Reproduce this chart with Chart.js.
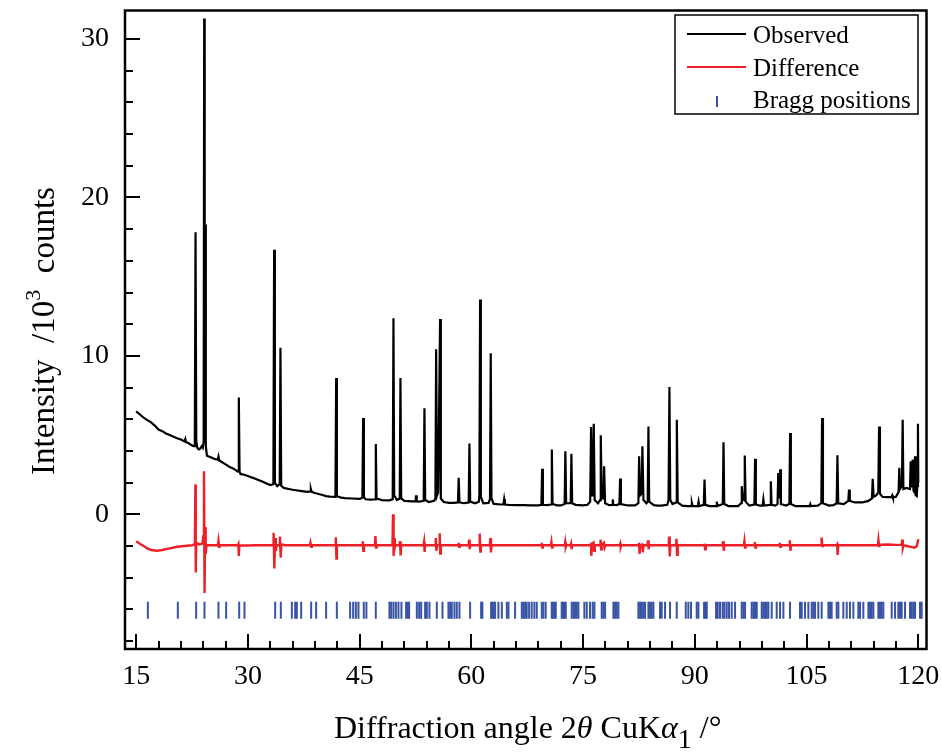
<!DOCTYPE html>
<html>
<head>
<meta charset="utf-8">
<title>Diffraction pattern</title>
<script src="https://cdn.jsdelivr.net/npm/chart.js@4.4.1/dist/chart.umd.min.js"></script>
<style>
  html, body { margin: 0; padding: 0; background: #fff; }
  #wrap { width: 942px; height: 752px; }
</style>
</head>
<body>
<div id="wrap"><canvas id="xrd" width="942" height="752"></canvas></div>
<script>
// Axis ticks
const xTicks = [15, 30, 45, 60, 75, 90, 105, 120];
const yTicks = [0, 10, 20, 30];

// Observed pattern, [2theta, intensity / 10^3 counts]
const observed = [
  [15.0, 6.5], [15.5, 6.3], [16.0, 6.1], [16.5, 5.95], [17.0, 5.8], [17.5, 5.6], [18.0, 5.35], [18.5, 5.25],
  [19.0, 5.1], [19.5, 5.0], [20.0, 4.9], [20.5, 4.8], [21.0, 4.72], [21.5, 4.6], [21.6, 4.75], [21.7, 4.55],
  [22.0, 4.5], [22.4, 4.38], [22.7, 4.3], [22.87, 4.3], [22.97, 17.8], [23.07, 4.6], [23.2, 4.2], [23.4, 4.1],
  [23.6, 4.15], [23.8, 4.3], [23.95, 4.2], [24.06, 4.6], [24.13, 31.3], [24.2, 5.2], [24.26, 18.3], [24.35, 4.3],
  [24.5, 3.7], [25.0, 3.6], [25.5, 3.5], [25.95, 3.45], [26.05, 3.65], [26.15, 3.4], [26.5, 3.3], [27.0, 3.15],
  [27.5, 3.0], [28.0, 2.9], [28.5, 2.75], [28.68, 2.7], [28.78, 7.38], [28.88, 2.7], [29.0, 2.55], [29.5, 2.5],
  [30.0, 2.42], [30.5, 2.33], [31.0, 2.25], [31.5, 2.15], [32.0, 2.05], [32.5, 1.95], [33.0, 1.85], [33.42, 1.9],
  [33.52, 16.7], [33.62, 2.0], [33.93, 1.78], [34.27, 1.9], [34.37, 10.52], [34.47, 1.8], [34.8, 1.67], [35.5, 1.6],
  [36.0, 1.55], [37.0, 1.48], [38.0, 1.42], [38.35, 1.45], [38.45, 1.6], [38.55, 1.42], [39.0, 1.35], [40.0, 1.22],
  [40.5, 1.15], [41.0, 1.12], [41.75, 1.1], [41.85, 8.6], [41.95, 1.15], [42.5, 1.05], [43.0, 1.02], [44.0, 1.0],
  [45.0, 0.97], [45.37, 1.05], [45.47, 6.08], [45.57, 1.1], [45.8, 0.95], [46.5, 0.93], [47.07, 0.95], [47.17, 4.44],
  [47.27, 1.0], [48.0, 0.9], [49.0, 0.88], [49.44, 0.95], [49.54, 12.37], [49.64, 1.2], [50.0, 0.9], [50.38, 1.0],
  [50.48, 8.6], [50.58, 1.0], [51.0, 0.85], [52.0, 0.82], [52.5, 0.82], [52.58, 1.2], [52.66, 0.82], [53.0, 0.8],
  [53.6, 0.85], [53.7, 6.7], [53.8, 0.9], [54.3, 0.78], [55.0, 0.85], [55.17, 1.0], [55.27, 10.42], [55.4, 1.2],
  [55.55, 1.4], [55.8, 12.33], [55.9, 1.0], [56.3, 0.78], [57.0, 0.72], [57.6, 0.72], [58.2, 0.75], [58.3, 2.3],
  [58.4, 0.75], [59.0, 0.7], [59.64, 0.75], [59.74, 4.47], [59.84, 0.8], [60.5, 0.7], [61.0, 0.8], [61.07, 1.1],
  [61.17, 13.56], [61.27, 1.1], [61.6, 0.7], [62.3, 0.72], [62.5, 0.95], [62.6, 10.17], [62.7, 1.0], [63.0, 0.66],
  [64.0, 0.62], [64.3, 0.62], [64.4, 0.95], [64.5, 0.62], [65.0, 0.6], [66.0, 0.58], [67.0, 0.58], [68.0, 0.57],
  [69.0, 0.57], [69.4, 0.6], [69.5, 2.87], [69.6, 0.6], [70.2, 0.58], [70.7, 0.62], [70.8, 4.09], [70.9, 0.65],
  [71.5, 0.57], [72.0, 0.56], [72.52, 0.65], [72.62, 3.98], [72.72, 0.7], [73.33, 0.7], [73.43, 3.83], [73.53, 0.7],
  [74.0, 0.6], [75.0, 0.56], [75.6, 0.6], [75.95, 0.8], [76.07, 5.51], [76.2, 1.2], [76.3, 1.5], [76.43, 5.72],
  [76.55, 0.9], [77.0, 0.7], [77.27, 0.9], [77.37, 4.99], [77.5, 1.0], [77.72, 1.0], [77.82, 3.04], [77.95, 0.7],
  [78.5, 0.58], [78.9, 0.6], [78.98, 0.94], [79.06, 0.6], [79.5, 0.58], [79.87, 0.65], [79.97, 2.26], [80.07, 0.65],
  [81.0, 0.56], [82.0, 0.56], [82.42, 0.7], [82.52, 3.67], [82.65, 1.2], [82.85, 1.3], [82.96, 4.3], [83.1, 0.9],
  [83.5, 0.7], [83.67, 0.8], [83.77, 5.55], [83.87, 0.8], [84.5, 0.58], [85.0, 0.55], [85.5, 0.55], [86.3, 0.6],
  [86.47, 0.9], [86.59, 8.03], [86.7, 0.9], [87.0, 0.65], [87.48, 0.75], [87.58, 5.97], [87.7, 0.75], [88.3, 0.55],
  [89.0, 0.52], [89.5, 0.52], [89.6, 0.72], [89.7, 0.52], [90.4, 0.52], [90.5, 0.8], [90.6, 0.52], [91.2, 0.6],
  [91.3, 2.2], [91.4, 0.6], [92.0, 0.52], [92.85, 0.52], [92.95, 0.8], [93.05, 0.52], [93.75, 0.65], [93.85, 4.55],
  [93.95, 0.65], [94.5, 0.52], [95.0, 0.52], [95.8, 0.52], [96.2, 0.7], [96.3, 1.78], [96.45, 1.0], [96.6, 0.9],
  [96.7, 3.71], [96.82, 0.8], [97.3, 0.55], [97.99, 0.62], [98.09, 3.5], [98.19, 0.62], [98.7, 0.55], [99.1, 0.55],
  [99.2, 0.94], [99.3, 0.55], [100.1, 0.6], [100.2, 2.09], [100.3, 0.6], [100.8, 0.55], [101.1, 0.65], [101.2, 2.6],
  [101.3, 1.0], [101.45, 2.85], [101.55, 0.65], [102.2, 0.55], [102.69, 0.65], [102.79, 5.13], [102.89, 0.65], [103.5, 0.52],
  [104.5, 0.52], [105.4, 0.52], [105.5, 0.65], [105.6, 0.52], [106.5, 0.55], [106.98, 0.7], [107.08, 6.08], [107.2, 0.7],
  [108.0, 0.55], [108.6, 0.58], [109.04, 0.7], [109.14, 3.73], [109.25, 0.7], [110.0, 0.65], [110.6, 0.85], [110.7, 1.57],
  [110.8, 0.85], [111.5, 0.75], [112.5, 0.75], [113.3, 0.85], [113.78, 1.0], [113.88, 2.24], [114.0, 1.1], [114.35, 1.2],
  [114.63, 1.4], [114.73, 5.55], [114.85, 1.3], [115.2, 1.1], [115.77, 1.09], [116.4, 1.1], [116.5, 1.2], [116.6, 1.05],
  [117.0, 1.1], [117.35, 1.4], [117.45, 2.93], [117.55, 1.6], [117.8, 1.8], [117.9, 5.97], [118.0, 1.6], [118.4, 1.67],
  [118.88, 1.6], [118.98, 3.35], [119.1, 1.7], [119.25, 3.46], [119.35, 1.5], [119.48, 1.4], [119.56, 3.67], [119.65, 1.2],
  [119.79, 1.15], [119.87, 1.8], [119.95, 5.72], [120.0, 2.0]
];

// Observed minus calculated
const difference = [
  [15.0, -1.7], [15.5, -1.85], [16.0, -2.0], [16.5, -2.15], [17.0, -2.25], [17.8, -2.3], [18.5, -2.25], [19.5, -2.15],
  [20.5, -2.05], [21.5, -2.0], [22.5, -1.95], [22.88, -1.9], [22.95, 1.89], [23.0, -3.67], [23.06, -1.8], [23.5, -1.9],
  [23.9, -1.85], [24.0, -1.4], [24.1, 2.72], [24.18, -4.97], [24.26, -0.8], [24.33, -2.5], [24.45, -1.95], [25.0, -1.95],
  [25.98, -1.95], [26.05, -1.7], [26.12, -2.05], [26.2, -1.95], [28.65, -1.95], [28.72, -1.88], [28.78, -2.62], [28.85, -1.95],
  [30.0, -1.97], [31.0, -1.95], [33.38, -1.95], [33.45, -1.16], [33.55, -3.42], [33.65, -1.5], [33.75, -2.3], [33.85, -1.95],
  [34.23, -1.95], [34.3, -1.4], [34.4, -2.73], [34.5, -1.9], [35.0, -1.95], [38.33, -1.95], [38.4, -1.8], [38.5, -2.05],
  [38.58, -1.95], [41.73, -1.95], [41.8, -1.45], [41.88, -2.79], [41.95, -1.95], [45.35, -1.95], [45.42, -1.7], [45.5, -2.3],
  [45.58, -1.95], [47.05, -1.95], [47.12, -1.37], [47.2, -2.1], [47.28, -1.95], [49.41, -1.95], [49.48, 0.0], [49.56, -2.62],
  [49.64, -1.5], [49.72, -2.1], [49.8, -1.95], [50.35, -1.95], [50.42, -1.7], [50.5, -2.6], [50.58, -1.95], [53.58, -1.95],
  [53.65, -1.75], [53.72, -2.37], [53.8, -1.95], [55.15, -1.95], [55.22, -1.5], [55.3, -2.3], [55.4, -1.95], [55.68, -1.95],
  [55.75, -1.2], [55.82, -2.48], [55.9, -1.95], [58.23, -1.95], [58.3, -1.8], [58.36, -2.05], [58.43, -1.95], [59.63, -1.95],
  [59.7, -1.6], [59.78, -2.2], [59.86, -1.95], [61.05, -1.95], [61.12, -1.22], [61.2, -2.35], [61.28, -1.95], [62.48, -1.95],
  [62.55, -1.5], [62.63, -2.41], [62.71, -1.95], [69.38, -1.95], [69.45, -1.8], [69.52, -2.1], [69.6, -1.95], [70.68, -1.95],
  [70.75, -1.75], [70.83, -2.1], [70.9, -1.95], [72.53, -1.95], [72.6, -1.74], [72.68, -2.05], [72.75, -1.95], [73.31, -1.95],
  [73.38, -1.85], [73.46, -2.2], [73.54, -1.95], [76.0, -1.95], [76.05, -1.8], [76.1, -2.62], [76.2, -1.85], [76.4, -1.78],
  [76.48, -2.3], [76.56, -1.95], [77.27, -1.95], [77.34, -1.6], [77.42, -2.2], [77.5, -1.95], [77.8, -1.8], [77.88, -2.1],
  [78.0, -1.95], [79.93, -1.95], [80.0, -1.85], [80.06, -2.05], [80.13, -1.95], [82.43, -1.95], [82.5, -1.8], [82.58, -2.5],
  [82.66, -1.95], [82.94, -1.9], [83.02, -2.4], [83.1, -1.95], [83.65, -1.95], [83.72, -1.64], [83.8, -2.2], [83.88, -1.95],
  [86.48, -1.95], [86.55, -1.4], [86.63, -2.66], [86.71, -1.95], [87.47, -1.95], [87.54, -1.55], [87.62, -2.55], [87.7, -1.95],
  [91.23, -1.95], [91.3, -1.85], [91.38, -2.2], [91.46, -1.95], [93.73, -1.95], [93.8, -1.7], [93.88, -2.3], [93.96, -1.95],
  [96.59, -1.95], [96.66, -1.7], [96.74, -2.1], [96.82, -1.95], [97.98, -1.95], [98.05, -1.75], [98.13, -2.1], [98.21, -1.95],
  [101.33, -1.95], [101.4, -1.8], [101.48, -2.05], [101.55, -1.95], [102.68, -1.95], [102.75, -1.64], [102.83, -2.3], [102.91, -1.95],
  [106.95, -1.95], [107.02, -1.47], [107.1, -2.0], [107.18, -1.95], [109.03, -1.95], [109.1, -1.9], [109.17, -2.56], [109.25, -1.95],
  [114.58, -1.95], [114.65, -1.64], [114.73, -2.0], [114.8, -1.92], [116.0, -1.9], [117.0, -1.93], [117.78, -1.93], [117.85, -1.6],
  [117.93, -2.1], [118.01, -1.95], [118.5, -2.0], [119.0, -2.05], [119.5, -2.1], [119.8, -2.0], [120.0, -1.57]
];

// Bragg reflection positions (2theta) and the row they are drawn on
const braggLevel = -6.05;
const braggAngle = [
  16.57, 20.59, 23.05, 24.17, 26.05, 27.08, 28.83, 29.54, 33.66, 34.42, 35.9, 36.34, 36.57, 37.15, 38.49, 39.16,
  40.5, 41.94, 43.72, 44.13, 44.49, 44.84, 45.56, 45.91, 47.17, 49.0, 49.23, 49.54, 49.86, 50.21, 50.61, 51.24,
  51.47, 51.64, 52.68, 52.99, 53.26, 53.79, 54.02, 54.37, 55.36, 56.12, 56.92, 57.15, 57.37, 57.73, 58.04, 58.4,
  59.83, 61.31, 61.48, 62.65, 62.83, 63.01, 63.19, 63.63, 64.09, 64.76, 64.98, 65.87, 66.77, 66.99, 67.21, 67.43,
  67.75, 68.1, 68.46, 68.78, 69.45, 69.67, 69.98, 70.79, 70.97, 71.15, 71.33, 72.13, 72.31, 72.49, 72.67, 73.47,
  73.7, 73.92, 74.14, 74.37, 75.17, 75.49, 75.93, 76.29, 76.52, 77.5, 77.72, 77.95, 79.07, 79.29, 79.51, 79.74,
  82.42, 82.65, 82.87, 83.09, 83.32, 83.77, 83.99, 84.21, 84.44, 85.33, 85.55, 86.0, 86.67, 87.57, 88.78, 89.13,
  89.49, 90.25, 90.48, 91.24, 91.42, 91.6, 92.85, 93.07, 93.38, 93.74, 93.97, 94.28, 94.59, 94.95, 95.4, 96.29,
  96.52, 96.74, 97.63, 97.86, 98.08, 98.31, 98.98, 99.2, 99.43, 99.65, 99.87, 100.32, 100.99, 101.44, 101.89, 102.78,
  104.12, 104.35, 104.79, 105.24, 105.69, 105.91, 106.14, 106.58, 107.03, 107.93, 108.15, 108.37, 109.04, 109.27, 109.94, 110.39,
  110.83, 111.28, 111.95, 112.18, 112.62, 113.3, 113.52, 113.74, 113.97, 114.64, 114.86, 115.08, 115.31, 116.43, 116.88, 117.32,
  117.55, 117.77, 118.22, 118.89, 119.11, 119.34, 119.56, 120.23, 120.45
];

const serif = "'Liberation Serif', 'Times New Roman', serif";
const obsColor = '#000000';
const diffColor = '#ee1f26';
const braggColor = '#3953a5';

// draws a run of text pieces (italic / sub / sup) centred on cx
function drawRich(ctx, parts, cx, baseY, size) {
  const fontOf = p => (p.italic ? 'italic ' : '') + (p.size || size) + 'px ' + serif;
  let total = 0;
  parts.forEach(p => { ctx.font = fontOf(p); total += ctx.measureText(p.t).width; });
  let pos = cx - total / 2;
  parts.forEach(p => {
    ctx.font = fontOf(p);
    ctx.fillText(p.t, pos, baseY + (p.dy || 0));
    pos += ctx.measureText(p.t).width;
  });
}

// frame, inward ticks, legend and axis titles
const decorations = {
  id: 'decorations',
  afterDraw(chart) {
    const { ctx, chartArea: a } = chart;
    const xs = chart.scales.x, ys = chart.scales.y;
    ctx.save();
    ctx.strokeStyle = '#000';
    ctx.lineWidth = 2;
    ctx.beginPath();
    for (let v = 15; v <= 120; v += 3) {
      const px = Math.round(xs.getPixelForValue(v));
      const len = v % 15 === 0 ? 15 : 8;
      ctx.moveTo(px, a.bottom);
      ctx.lineTo(px, a.bottom - len);
    }
    for (let v = -8; v <= 30; v += 2) {
      const py = Math.round(ys.getPixelForValue(v));
      const len = v % 10 === 0 ? 15 : 8;
      ctx.moveTo(a.left, py);
      ctx.lineTo(a.left + len, py);
    }
    ctx.stroke();
    ctx.lineWidth = 2.5;
    ctx.strokeRect(a.left, a.top, a.right - a.left, a.bottom - a.top);

    // legend
    ctx.fillStyle = '#fff';
    ctx.fillRect(675, 15, 243, 99);
    ctx.lineWidth = 1.5;
    ctx.strokeStyle = '#000';
    ctx.strokeRect(675, 15, 243, 99);
    ctx.lineWidth = 2;
    ctx.strokeStyle = obsColor;
    ctx.beginPath(); ctx.moveTo(687, 34); ctx.lineTo(746, 34); ctx.stroke();
    ctx.strokeStyle = diffColor;
    ctx.beginPath(); ctx.moveTo(687, 67); ctx.lineTo(746, 67); ctx.stroke();
    ctx.strokeStyle = braggColor;
    ctx.beginPath(); ctx.moveTo(717, 96); ctx.lineTo(717, 107); ctx.stroke();
    ctx.fillStyle = '#000';
    ctx.font = '25px ' + serif;
    ctx.textBaseline = 'alphabetic';
    ctx.textAlign = 'left';
    ctx.fillText('Observed', 753, 43);
    ctx.fillText('Difference', 753, 76);
    ctx.fillText('Bragg positions', 753, 108);

    // x title
    drawRich(ctx, [
      { t: 'Diffraction angle 2' },
      { t: '\u03B8', italic: true },
      { t: ' CuK' },
      { t: '\u03B1', italic: true },
      { t: '1', size: 28, dy: 10 },
      { t: ' /\u00B0' }
    ], (a.left + a.right) / 2 + 2, 738, 32);

    // y title
    ctx.translate(54, 331);
    ctx.rotate(-Math.PI / 2);
    drawRich(ctx, [
      { t: 'Intensity\u2002/10' },
      { t: '3', size: 22, dy: -14 },
      { t: '\u2002counts' }
    ], 0, 0, 33);
    ctx.restore();
  }
};

const ctx = document.getElementById('xrd').getContext('2d');
new Chart(ctx, {
  type: 'scatter',
  data: {
    datasets: [
      {
        label: 'Observed',
        data: observed.map(p => ({ x: p[0], y: p[1] })),
        showLine: true,
        borderColor: obsColor,
        borderWidth: 2.2,
        pointRadius: 0,
        pointHoverRadius: 0
      },
      {
        label: 'Difference',
        data: difference.map(p => ({ x: p[0], y: p[1] })),
        showLine: true,
        borderColor: diffColor,
        borderWidth: 2.4,
        pointRadius: 0,
        pointHoverRadius: 0
      },
      {
        label: 'Bragg positions',
        data: braggAngle.map(v => ({ x: v, y: braggLevel })),
        showLine: false,
        pointStyle: 'line',
        pointRotation: 90,
        pointRadius: 8.5,
        pointBorderColor: braggColor,
        pointBackgroundColor: braggColor,
        pointBorderWidth: 2
      }
    ]
  },
  options: {
    responsive: false,
    animation: false,
    devicePixelRatio: 1,
    layout: { padding: { top: 8, right: 15.5, left: 0, bottom: 0 } },
    plugins: { legend: { display: false }, tooltip: { enabled: false } },
    scales: {
      x: {
        type: 'linear',
        min: 13.5,
        max: 121.1,
        grid: { display: false, drawTicks: false },
        border: { display: false },
        afterBuildTicks: s => { s.ticks = xTicks.map(v => ({ value: v })); },
        afterFit: s => { s.height = 103; s.paddingLeft = 0; s.paddingRight = 0; },
        ticks: { font: { family: serif, size: 28 }, color: '#000', padding: 11, maxRotation: 0, autoSkip: false }
      },
      y: {
        type: 'linear',
        min: -8.5,
        max: 31.8,
        grid: { display: false, drawTicks: false },
        border: { display: false },
        afterBuildTicks: s => { s.ticks = yTicks.map(v => ({ value: v })); },
        afterFit: s => { s.width = 125; s.paddingTop = 0; s.paddingBottom = 0; },
        ticks: { font: { family: serif, size: 28 }, color: '#000', padding: 16, autoSkip: false }
      }
    }
  },
  plugins: [decorations]
});
</script>
</body>
</html>
